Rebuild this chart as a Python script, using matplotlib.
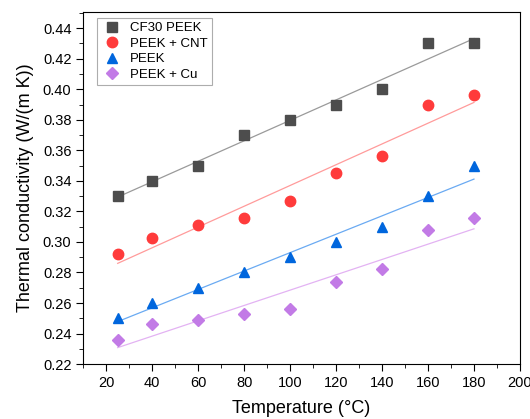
import numpy as np
import matplotlib.pyplot as plt
from matplotlib.ticker import MultipleLocator

plt.rcParams['font.family'] = ['Liberation Sans', 'DejaVu Sans']

temp = [25, 40, 60, 80, 100, 120, 140, 160, 180]
cf30_peek = [0.330, 0.340, 0.350, 0.370, 0.380, 0.390, 0.400, 0.430, 0.430]
peek_cnt = [0.292, 0.3025, 0.311, 0.3157, 0.327, 0.345, 0.3565, 0.390, 0.3965]
peek = [0.250, 0.260, 0.270, 0.280, 0.290, 0.300, 0.310, 0.330, 0.350]
peek_cu = [0.236, 0.246, 0.249, 0.2525, 0.256, 0.2735, 0.282, 0.308, 0.3155]

series = [
    ('CF30 PEEK', cf30_peek, 's', '#4d4d4d', '#9a9a9a'),
    ('PEEK + CNT', peek_cnt, 'o', '#ff3b3b', '#ff9b9b'),
    ('PEEK', peek, '^', '#0066dd', '#6aaaf2'),
    ('PEEK + Cu', peek_cu, 'D', '#c27be6', '#e3b3f3'),
]

fig = plt.figure(figsize=(5.3, 4.19), dpi=100)
ax = fig.add_axes([0.157, 0.131, 0.824, 0.840])

x = np.array(temp)
for nome, y, m, cor, cor_linha in series:
    # reta de ajuste linear
    b, a = np.polyfit(x, y, 1)
    ax.plot(x, a + b * x, '-', color=cor_linha, lw=0.9, zorder=1)
    ms = 7.5 if m != 'D' else 6.5
    ax.plot(x, y, m, color=cor, ms=ms, mec=cor, label=nome, zorder=2)

ax.set_xlim(10, 200)
ax.set_ylim(0.22, 0.4505)
ax.xaxis.set_minor_locator(MultipleLocator(10))
ax.yaxis.set_major_locator(MultipleLocator(0.02))
ax.yaxis.set_minor_locator(MultipleLocator(0.01))
ax.set_xticks(np.arange(20, 201, 20))
ax.tick_params(which='both', direction='out', top=False, right=False, labelsize=10.5)
ax.tick_params(which='major', length=5)
ax.tick_params(which='minor', length=3)
ax.yaxis.set_major_formatter(plt.FuncFormatter(lambda v, p: f'{v:.2f}'))

ax.set_xlabel('Temperature (°C)', fontsize=13, labelpad=7)
ax.set_ylabel('Thermal conductivity (W/(m K))', fontsize=13, labelpad=6)

leg = ax.legend(loc='upper left', bbox_to_anchor=(0.032, 0.983), fontsize=9.5,
                frameon=True, fancybox=False, edgecolor='#999999',
                borderaxespad=0, handletextpad=0.6, handlelength=1.6,
                labelspacing=0.25, borderpad=0.3)
leg.get_frame().set_linewidth(0.8)

plt.savefig('out.png', dpi=100)
